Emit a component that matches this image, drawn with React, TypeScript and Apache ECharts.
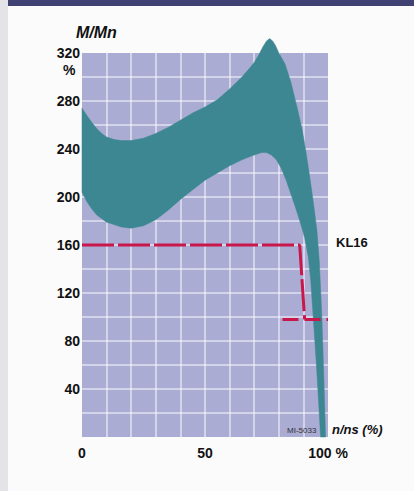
import React, { useEffect, useRef } from "react";
import * as echarts from "echarts";

// Upper boundary of the torque band (speed %, torque %)
const upperSpeed = [0, 2, 4, 6, 8, 10, 13, 16, 20, 25, 30, 35, 40, 45, 50, 55, 60, 65, 68, 70, 72, 73.5, 75, 76.3, 77.5, 78.7, 80, 82.5, 85, 87.5, 89.5, 91, 92.7, 94, 95.5, 96.5, 97.5, 98.3, 99];
const upperTorque = [274, 268, 262, 257, 253, 250, 248, 247, 247, 249, 253, 258, 264, 270, 275, 281, 290, 300, 307, 312, 319, 325, 330, 332, 330, 326, 320, 311, 295, 274, 256, 238, 215, 196, 172, 145, 100, 50, 0];
// Lower boundary of the torque band
const lowerSpeed = [0, 2, 4, 6, 8, 10, 13, 16, 20, 25, 30, 35, 40, 45, 50, 55, 60, 65, 70, 73, 75, 77, 79, 81, 83, 85, 87, 89, 90.5, 92, 93, 94, 95.3, 96.3, 97];
const lowerTorque = [204, 196, 190, 185, 182, 179, 177, 175, 174, 176, 181, 189, 198, 206, 214, 220, 226, 231, 235, 237, 237, 235, 231, 224, 214, 202, 190, 177, 166, 150, 130, 100, 60, 25, 0];

// KL16 load characteristic (dashed red)
const kl16Speed = [0, 88.5, 90.5];
const kl16Torque = [160, 160, 98];
const kl16TailSpeed = [81.5, 100];
const kl16TailTorque = [98, 98];

const xLabels: Record<number, string> = { 0: "0", 50: "50", 100: "100 %" };
const yLabelStep = 40;

const TEAL = "#3c8791";
const RED = "#c8174a";

export default function App() {
  const ref = useRef<HTMLDivElement>(null);
  useEffect(() => {
    if (!ref.current) return;
    const chart = echarts.init(ref.current, undefined, { renderer: "svg" });
    const band = upperSpeed
      .map((s, i) => [s, upperTorque[i]])
      .concat(lowerSpeed.map((s, i) => [s, lowerTorque[i]]).reverse());
    const option: any = {
      animation: false,
      backgroundColor: "#fbfbfc",
      grid: {
        left: 82,
        right: 86,
        top: 53,
        bottom: 54,
        show: true,
        backgroundColor: "#aaacd4",
        borderWidth: 0,
      },
      xAxis: {
        type: "value",
        min: 0,
        max: 100,
        interval: 10,
        axisLine: { show: false },
        axisTick: { show: false },
        splitLine: {
          show: true,
          showMinLine: false,
          showMaxLine: false,
          lineStyle: { color: "rgba(255,255,255,0.65)", width: 1.5 },
        },
        axisLabel: {
          margin: 9,
          color: "#111",
          fontFamily: "Liberation Sans",
          fontWeight: "bold",
          fontSize: 14,
          formatter: (v: number) => xLabels[v] ?? "",
        },
      },
      yAxis: {
        type: "value",
        min: 0,
        max: 320,
        interval: 20,
        axisLine: { show: false },
        axisTick: { show: false },
        splitLine: {
          show: true,
          showMinLine: false,
          showMaxLine: false,
          lineStyle: { color: "rgba(255,255,255,0.65)", width: 1.5 },
        },
        axisLabel: {
          margin: 2,
          color: "#111",
          fontFamily: "Liberation Sans",
          fontWeight: "bold",
          fontSize: 14,
          formatter: (v: number) => (v > 0 && v % yLabelStep === 0 ? String(v) : ""),
        },
      },
      series: [
        {
          type: "custom",
          clip: false,
          z: 2,
          data: [[0, 0]],
          renderItem: (_params: any, api: any) => {
            const pts = band.map((p) => api.coord(p));
            return {
              type: "polygon",
              shape: { points: pts },
              style: { fill: TEAL, stroke: TEAL, lineWidth: 0.5, lineJoin: "round" },
            };
          },
        },
        {
          type: "line",
          z: 3,
          symbol: "none",
          data: kl16Speed.map((s, i) => [s, kl16Torque[i]]),
          lineStyle: { color: RED, width: 3, type: [32, 4] },
        },
        {
          type: "line",
          z: 3,
          symbol: "none",
          data: kl16TailSpeed.map((s, i) => [s, kl16TailTorque[i]]),
          lineStyle: { color: RED, width: 3, type: [16, 6] },
        },
      ],
      graphic: [
        { type: "rect", left: 0, top: 0, z: 10, shape: { width: 8, height: 491 }, style: { fill: "#e4e4e8" }, silent: true },
        { type: "rect", left: 8, top: 0, z: 10, shape: { width: 406, height: 6 }, style: { fill: "#3f4272" }, silent: true },
        {
          type: "text",
          left: 76,
          top: 24,
          z: 10,
          style: { text: "M/Mn", font: "italic bold 16px 'Liberation Sans'", fill: "#111" },
        },
        {
          type: "text",
          left: 63,
          top: 63,
          z: 10,
          style: { text: "%", font: "bold 14px 'Liberation Sans'", fill: "#111" },
        },
        {
          type: "text",
          left: 336,
          top: 236,
          z: 10,
          style: { text: "KL16", font: "bold 13px 'Liberation Sans'", fill: "#111" },
        },
        {
          type: "text",
          left: 332,
          top: 423,
          z: 10,
          style: { text: "n/ns (%)", font: "italic bold 13px 'Liberation Sans'", fill: "#111" },
        },
        {
          type: "text",
          left: 287,
          top: 426,
          z: 10,
          style: { text: "MI-5033", font: "8px 'Liberation Sans'", fill: "#333" },
        },
      ],
    };
    chart.setOption(option);
    return () => chart.dispose();
  }, []);
  return (
    <div
      ref={ref}
      style={{ position: "fixed", left: 0, top: 0, width: 414, height: 491 }}
    />
  );
}
